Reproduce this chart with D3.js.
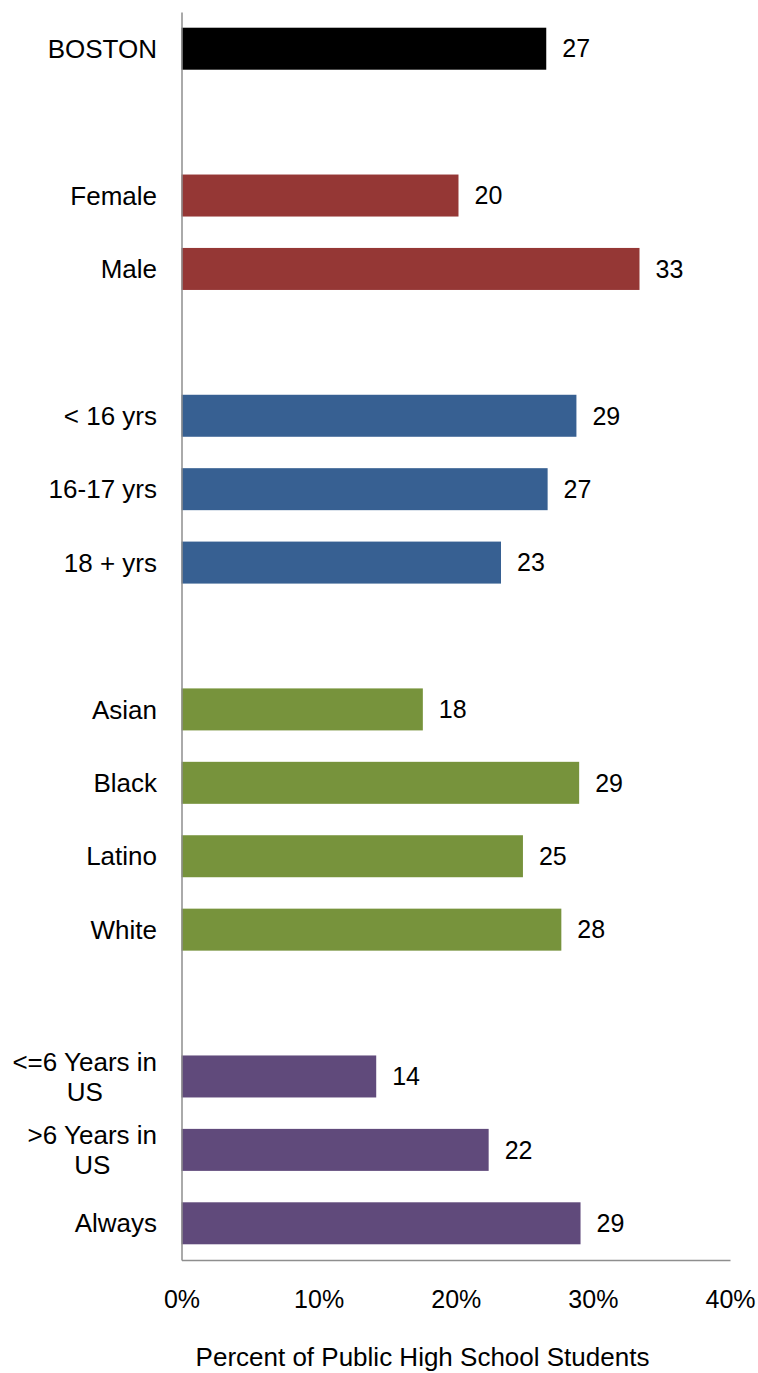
<!DOCTYPE html>
<html>
<head>
<meta charset="utf-8">
<script src="https://cdn.jsdelivr.net/npm/d3@7"></script>
<style>
  html, body { margin: 0; padding: 0; background: #fff; }
  svg { display: block; }
  text { font-family: "Liberation Sans", Arial, Helvetica, sans-serif; fill: #000; }
</style>
</head>
<body>
<svg id="chart" width="758" height="1373"></svg>
<script>
// ---- data ----
const categories = ["BOSTON", "Female", "Male", "< 16 yrs", "16-17 yrs", "18 + yrs",
  "Asian", "Black", "Latino", "White", "<=6 Years in US", ">6 Years in US", "Always"];
const values = [26.6, 20.2, 33.4, 28.8, 26.7, 23.3, 17.6, 29.0, 24.9, 27.7, 14.2, 22.4, 29.1];
const valueLabels = ["27", "20", "33", "29", "27", "23", "18", "29", "25", "28", "14", "22", "29"];
const groups = [0, 1, 1, 2, 2, 2, 3, 3, 3, 3, 4, 4, 4];
const groupColors = ["#000000", "#953735", "#376092", "#77933C", "#604A7B"];
const tickValues = [0, 10, 20, 30, 40];
const tickLabels = ["0%", "10%", "20%", "30%", "40%"];
const axisTitle = "Percent of Public High School Students";

// ---- layout ----
const plotLeft = 181.5, plotRight = 730, plotTop = 12, plotBottom = 1260;
const fontSize = 25;
const catFontSize = 26;
const labelRight = 157;
const axisColor = "#8e8e8e";

const svg = d3.select("#chart");

// slots: insert an empty slot between groups
const slots = [];
categories.forEach((c, i) => {
  if (i > 0 && groups[i] !== groups[i - 1]) slots.push("__gap" + i);
  slots.push(c);
});

const x = d3.scaleLinear().domain([0, 40]).range([plotLeft, plotRight]);
const pad = 1 - 42 / ((plotBottom - plotTop) / slots.length);
const y = d3.scaleBand().domain(slots).range([plotTop, plotBottom])
  .paddingInner(pad).paddingOuter(pad / 2);

const rows = categories.map((c, i) => ({ c, v: values[i], lab: valueLabels[i], g: groups[i] }));

// bars
svg.append("g").selectAll("rect").data(rows).join("rect")
  .attr("x", x(0))
  .attr("y", d => y(d.c))
  .attr("width", d => x(d.v) - x(0))
  .attr("height", y.bandwidth())
  .attr("fill", d => groupColors[d.g]);

// value labels
svg.append("g").selectAll("text").data(rows).join("text")
  .attr("x", d => x(d.v) + 16)
  .attr("y", d => y(d.c) + y.bandwidth() / 2)
  .attr("dy", "0.35em")
  .attr("font-size", fontSize)
  .text(d => d.lab);

// left axis (line only)
const gy = svg.append("g").attr("transform", `translate(${plotLeft},0)`)
  .call(d3.axisLeft(y).tickValues([]).tickSizeOuter(0));
gy.select(".domain").attr("stroke", axisColor).attr("stroke-width", 1.5);

// bottom axis
const gx = svg.append("g").attr("transform", `translate(0,${plotBottom})`)
  .call(d3.axisBottom(x).tickValues(tickValues).tickFormat((d, i) => tickLabels[i])
    .tickSize(0).tickSizeOuter(0).tickPadding(30));
gx.select(".domain").attr("stroke", axisColor).attr("stroke-width", 1.5);
gx.selectAll(".tick line").remove();
gx.selectAll(".tick text")
  .attr("font-size", fontSize)
  .attr("font-family", '"Liberation Sans", Arial, Helvetica, sans-serif')
  .attr("fill", "#000");

// category labels (wrapped, lines centred, block right aligned)
const maxLabelWidth = 155;
const lineH = 30;
const catG = svg.append("g");
rows.forEach(d => {
  const t = catG.append("text").attr("font-size", catFontSize).attr("text-anchor", "middle");
  const words = d.c.split(" ");
  const lines = [];
  let cur = [];
  const probe = t.append("tspan");
  words.forEach(w => {
    const trial = cur.concat([w]).join(" ");
    probe.text(trial);
    if (probe.node().getComputedTextLength() > maxLabelWidth && cur.length) {
      lines.push(cur.join(" "));
      cur = [w];
    } else {
      cur.push(w);
    }
  });
  lines.push(cur.join(" "));
  let widest = 0;
  lines.forEach(l => { probe.text(l); widest = Math.max(widest, probe.node().getComputedTextLength()); });
  probe.remove();
  const cx = labelRight - widest / 2;
  const cy = y(d.c) + y.bandwidth() / 2;
  const first = cy - (lines.length - 1) * lineH / 2;
  lines.forEach((l, k) => {
    t.append("tspan").attr("x", cx).attr("y", first + k * lineH).attr("dy", "0.35em").text(l);
  });
});

// axis title
svg.append("text")
  .attr("x", 422.5)
  .attr("y", 1366)
  .attr("text-anchor", "middle")
  .attr("font-size", catFontSize)
  .text(axisTitle);
</script>
</body>
</html>
